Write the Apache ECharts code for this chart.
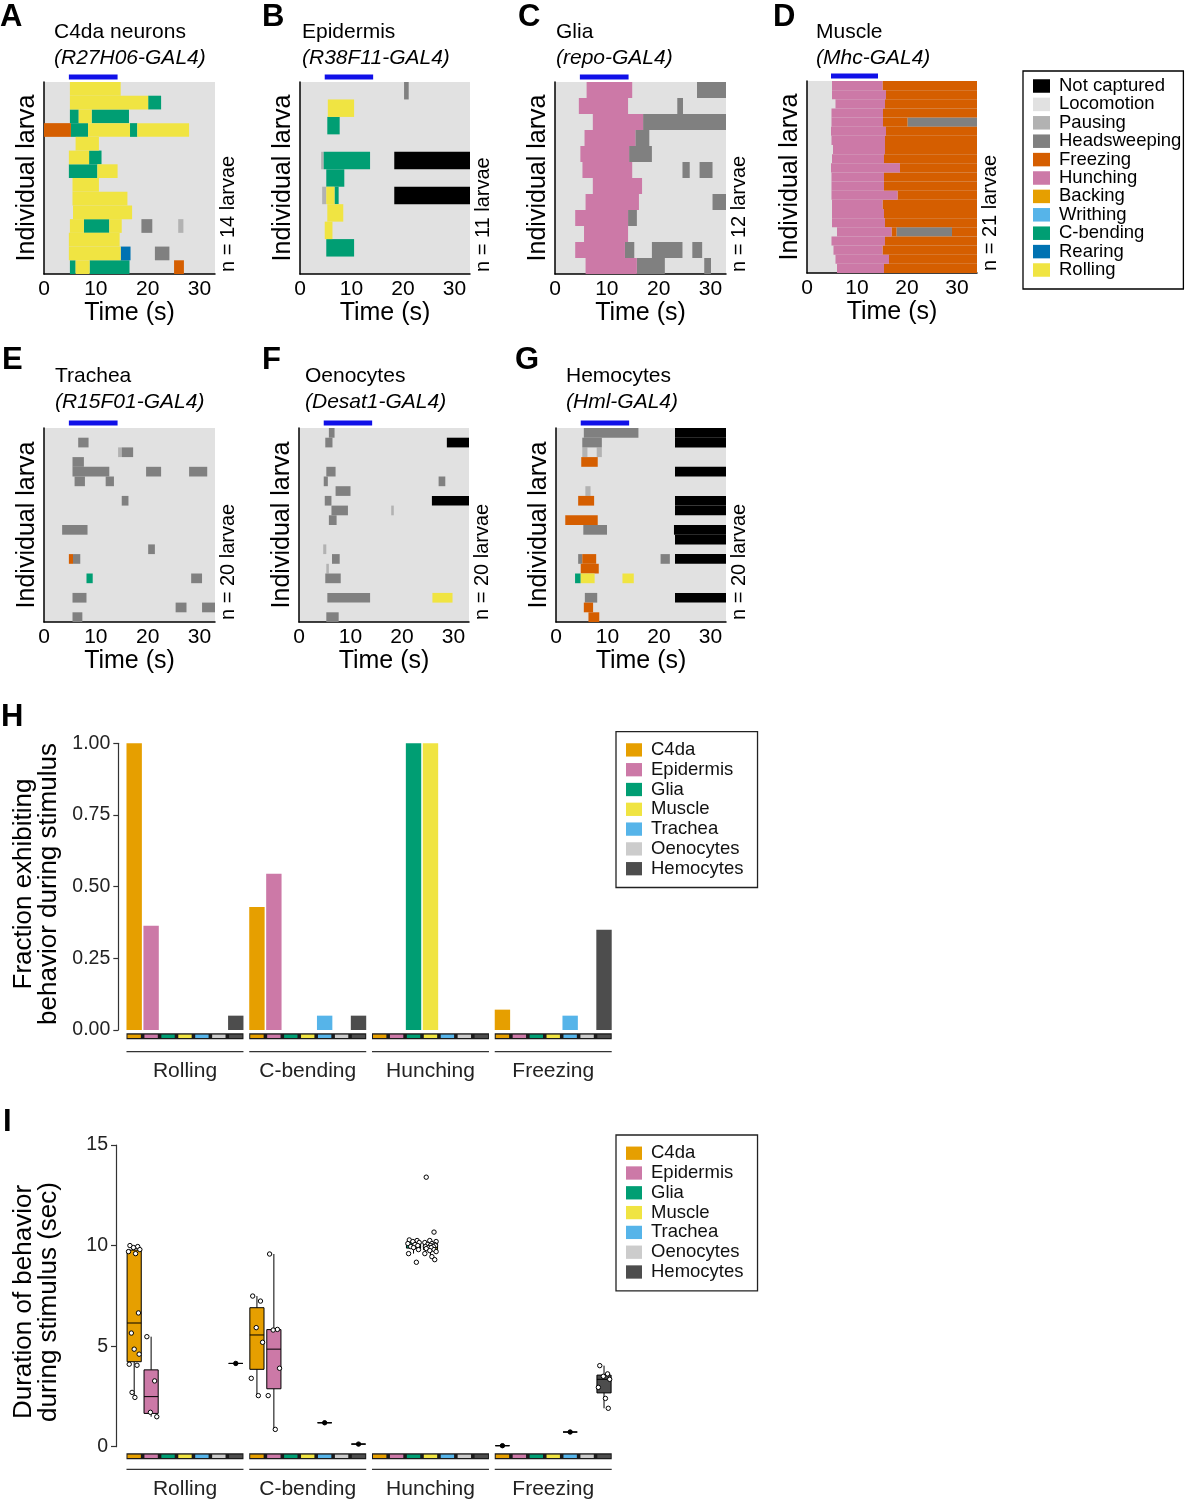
<!DOCTYPE html>
<html>
<head>
<meta charset="utf-8">
<title>Larval behaviour ethograms</title>
<script src="https://cdn.jsdelivr.net/npm/echarts@6/dist/echarts.min.js"></script>
<style>
  html, body { margin: 0; padding: 0; background: #fff; }
  #chart { width: 1185px; height: 1500px; }
</style>
</head>
<body>
<div id="chart"></div>
<script>
// behaviour classes and their colours
const behaviors = ['Not captured', 'Locomotion', 'Pausing', 'Headsweeping', 'Freezing', 'Hunching',
  'Backing', 'Writhing', 'C-bending', 'Rearing', 'Rolling'];
const behaviorColors = ['#000000', '#e1e1e1', '#b2b2b2', '#808080', '#d55e00', '#cc79a7',
  '#e69f00', '#56b4e9', '#009e73', '#0072b2', '#f0e442'];
const NC = 'Not captured', PA = 'Pausing', HS = 'Headsweeping', FR = 'Freezing', HU = 'Hunching',
  CB = 'C-bending', RE = 'Rearing', RO = 'Rolling';

// panel headers
const panelNames = ['C4da neurons', 'Epidermis', 'Glia', 'Muscle', 'Trachea', 'Oenocytes', 'Hemocytes'];
const panelDrivers = ['R27H06-GAL4', 'R38F11-GAL4', 'repo-GAL4', 'Mhc-GAL4', 'R15F01-GAL4', 'Desat1-GAL4', 'Hml-GAL4'];
const larvaeCounts = [14, 11, 12, 21, 20, 20, 20];
const timeMax = [33, 33, 33, 34, 33, 33, 33];
const stimulus = [4.8, 14.2];

// ethogram segments: [larva row, start (s), end (s), behaviour]
const segA = [
  [0, 5.0, 14.8, RO],
  [1, 5.0, 20.1, RO], [1, 20.1, 22.6, CB],
  [2, 5.0, 6.7, CB], [2, 6.7, 9.2, RO], [2, 9.2, 16.4, CB],
  [3, 0, 5.2, FR], [3, 5.2, 8.5, CB], [3, 8.5, 16.6, RO], [3, 16.6, 18.0, CB], [3, 18.0, 28.0, RO],
  [4, 6.1, 10.6, RO],
  [5, 4.8, 8.7, RO], [5, 8.7, 11.1, CB],
  [6, 4.8, 10.3, CB], [6, 10.3, 14.2, RO],
  [7, 5.5, 10.6, RO],
  [8, 5.5, 16.1, RO],
  [9, 5.6, 17.0, RO],
  [10, 5.0, 7.7, RO], [10, 7.7, 12.6, CB], [10, 12.6, 15.0, RO], [10, 18.8, 20.9, HS], [10, 25.9, 26.9, PA],
  [11, 4.8, 14.6, RO],
  [12, 4.8, 14.8, RO], [12, 14.8, 16.7, RE], [12, 21.4, 24.2, HS],
  [13, 5.0, 6.1, CB], [13, 6.1, 8.8, RO], [13, 8.8, 16.5, CB], [13, 25.1, 27.0, FR]
];
const segB = [
  [0, 20.2, 21.1, HS],
  [1, 5.4, 10.5, RO],
  [2, 5.3, 7.7, CB],
  [4, 4.1, 4.6, PA], [4, 4.6, 13.6, CB], [4, 18.3, 33, NC],
  [5, 5.1, 8.6, CB],
  [6, 4.3, 5.1, PA], [6, 5.1, 6.7, RO], [6, 6.7, 7.5, CB], [6, 18.3, 33, NC],
  [7, 5.3, 8.4, RO],
  [8, 4.8, 6.3, RO],
  [9, 5.1, 10.5, CB]
];
const segC = [
  [0, 6.1, 14.9, HU], [0, 27.4, 33, HS],
  [1, 4.6, 14.1, HU], [1, 23.6, 24.7, HS],
  [2, 7.3, 17.0, HU], [2, 17.0, 33, HS],
  [3, 5.7, 15.5, HU], [3, 15.5, 18.2, HS],
  [4, 4.9, 14.3, HU], [4, 14.3, 18.7, HS],
  [5, 5.3, 14.9, HU], [5, 24.6, 26.0, HS], [5, 27.9, 30.4, HS],
  [6, 7.3, 16.8, HU],
  [7, 5.9, 16.2, HU], [7, 30.4, 33, HS],
  [8, 3.9, 14.1, HU], [8, 14.1, 15.8, HS],
  [9, 5.6, 14.1, HU],
  [10, 3.9, 13.5, HU], [10, 13.5, 15.3, HS], [10, 18.7, 24.6, HS], [10, 26.5, 28.4, HS],
  [11, 5.9, 15.8, HU], [11, 15.8, 21.2, HS], [11, 28.8, 30.1, HS]
];
const segD = [
  [0, 5.0, 15.1, HU], [0, 15.1, 34, FR],
  [1, 5.0, 15.8, HU], [1, 15.8, 34, FR],
  [2, 5.7, 15.6, HU], [2, 15.6, 34, FR],
  [3, 4.9, 15.2, HU], [3, 15.2, 34, FR],
  [4, 4.9, 15.2, HU], [4, 15.2, 20.1, FR], [4, 20.1, 34, HS],
  [5, 4.8, 15.8, HU], [5, 15.8, 34, FR],
  [6, 4.9, 15.6, HU], [6, 15.6, 34, FR],
  [7, 5.2, 15.6, HU], [7, 15.6, 34, FR],
  [8, 5.0, 15.4, HU], [8, 15.4, 34, FR],
  [9, 4.8, 18.6, HU], [9, 18.6, 34, FR],
  [10, 4.9, 15.4, HU], [10, 15.4, 34, FR],
  [11, 4.9, 15.4, HU], [11, 15.4, 34, FR],
  [12, 4.9, 18.1, HU], [12, 18.1, 34, FR],
  [13, 5.0, 15.1, HU], [13, 15.1, 34, FR],
  [14, 5.0, 15.4, HU], [14, 15.4, 34, FR],
  [15, 5.0, 15.6, HU], [15, 15.6, 34, FR],
  [16, 6.0, 16.9, HU], [16, 16.9, 17.9, FR], [16, 17.9, 29.0, HS], [16, 29.0, 34, FR],
  [17, 4.9, 15.6, HU], [17, 15.6, 34, FR],
  [18, 5.3, 15.1, HU], [18, 15.1, 34, FR],
  [19, 5.7, 16.4, HU], [19, 16.4, 34, FR],
  [20, 6.0, 15.4, HU], [20, 15.4, 34, FR]
];
const segE = [
  [1, 6.6, 8.6, HS],
  [2, 14.3, 15.0, PA], [2, 15.0, 17.2, HS],
  [3, 5.5, 7.7, HS],
  [4, 5.5, 12.6, HS], [4, 19.7, 22.6, HS], [4, 28.0, 31.5, HS],
  [5, 5.9, 7.9, HS], [5, 11.9, 13.5, HS],
  [7, 15.0, 16.3, HS],
  [10, 3.5, 8.4, HS],
  [12, 20.1, 21.4, HS],
  [13, 4.8, 5.6, FR], [13, 5.6, 7.0, HS],
  [15, 8.2, 9.4, CB], [15, 28.4, 30.5, HS],
  [17, 5.5, 8.2, HS],
  [18, 25.4, 27.5, HS], [18, 30.5, 33, HS],
  [19, 5.5, 7.4, HS]
];
const segF = [
  [0, 5.8, 6.9, HS],
  [1, 5.1, 6.5, HS], [1, 28.7, 33, NC],
  [4, 5.3, 7.1, HS],
  [5, 4.8, 5.6, HS], [5, 27.1, 28.4, HS],
  [6, 7.1, 10.0, HS],
  [7, 5.0, 6.3, HS], [7, 25.8, 33, NC],
  [8, 6.3, 9.5, HS], [8, 17.9, 18.4, PA],
  [9, 5.8, 7.3, HS],
  [12, 4.7, 5.3, PA],
  [13, 6.4, 7.9, HS],
  [14, 5.3, 5.8, PA],
  [15, 5.1, 8.1, HS],
  [17, 5.5, 13.8, HS], [17, 25.9, 29.8, RO],
  [19, 5.3, 7.7, HS]
];
const segG = [
  [0, 5.4, 16.0, HS], [0, 23.1, 33, NC],
  [1, 5.1, 8.9, HS], [1, 23.1, 33, NC],
  [2, 5.1, 6.1, PA], [2, 7.9, 8.9, PA],
  [3, 4.9, 8.1, FR],
  [4, 23.1, 33, NC],
  [6, 5.7, 6.7, PA],
  [7, 4.3, 7.4, FR], [7, 23.1, 33, NC],
  [8, 23.1, 33, NC],
  [9, 1.8, 8.1, FR],
  [10, 5.3, 9.9, HS], [10, 22.9, 33, NC],
  [11, 23.1, 33, NC],
  [13, 4.3, 5.1, HS], [13, 5.1, 7.8, FR], [13, 20.3, 22.1, HS], [13, 23.1, 33, NC],
  [14, 4.8, 8.3, FR],
  [15, 3.7, 4.8, CB], [15, 4.8, 7.5, RO], [15, 12.9, 15.1, RO],
  [17, 5.6, 8.0, HS], [17, 23.1, 33, NC],
  [18, 5.4, 7.2, FR],
  [19, 6.3, 8.4, FR]
];
const ethograms = [segA, segB, segC, segD, segE, segF, segG];

// summary panels
const tissues = ['C4da', 'Epidermis', 'Glia', 'Muscle', 'Trachea', 'Oenocytes', 'Hemocytes'];
const tissueColors = ['#e69f00', '#cc79a7', '#009e73', '#f0e442', '#56b4e9', '#cccccc', '#4d4d4d'];
const groups = ['Rolling', 'C-bending', 'Hunching', 'Freezing'];

// fraction exhibiting behaviour during stimulus, per tissue
const fracRolling = [1.00, 0.364, 0, 0, 0, 0, 0.05];
const fracCBending = [0.429, 0.545, 0, 0, 0.05, 0, 0.05];
const fracHunching = [0, 0, 1.00, 1.00, 0, 0, 0];
const fracFreezing = [0.071, 0, 0, 0, 0.05, 0, 0.35];
const fractionByGroup = [fracRolling, fracCBending, fracHunching, fracFreezing];

// duration of behaviour during stimulus (s), one value per larva
const durRolling = {
  C4da: [10.0, 9.95, 9.9, 9.8, 9.7, 9.6, 6.65, 5.65, 4.85, 4.6, 4.1, 4.05, 2.7, 2.45],
  Epidermis: [5.47, 3.27, 1.71, 1.49],
  Hemocytes: [4.14]
};
const durCBending = {
  C4da: [7.49, 7.24, 5.92, 5.19, 3.40, 2.54],
  Epidermis: [9.58, 5.83, 5.80, 3.90, 2.54, 0.86],
  Trachea: [1.19],
  Hemocytes: [0.13]
};
const durHunching = {
  Glia: [10.28, 10.25, 10.2, 10.15, 10.1, 10.05, 10.0, 9.95, 9.9, 9.8, 9.6, 9.17],
  Muscle: [13.4, 10.67, 10.25, 10.2, 10.15, 10.1, 10.05, 10.05, 10.0, 10.0, 9.95, 9.95,
    9.9, 9.9, 9.85, 9.8, 9.75, 9.7, 9.6, 9.45, 9.3]
};
const durFreezing = {
  C4da: [0.05],
  Trachea: [0.73],
  Hemocytes: [4.03, 3.62, 3.5, 3.35, 2.95, 2.4, 1.91]
};
const durationsByGroup = [durRolling, durCBending, durHunching, durFreezing];

// layout
const ethoGrids = [
  { left: 44, top: 82, width: 171, height: 192 },
  { left: 300, top: 82, width: 170, height: 192 },
  { left: 555, top: 82, width: 171, height: 192 },
  { left: 807, top: 81, width: 170, height: 192 },
  { left: 44, top: 428, width: 171, height: 194 },
  { left: 299, top: 428, width: 170, height: 194 },
  { left: 556, top: 428, width: 170, height: 194 }
];
const titlePos = [[54, 32.5], [302, 32.5], [556, 32.5], [816, 32.5], [55, 376.5], [305, 376.5], [566, 376.5]];
const letters = ['A', 'B', 'C', 'D', 'E', 'F', 'G', 'H', 'I'];
const letterPos = [[0, 17], [262, 17], [518, 17], [773, 17], [2, 360], [262, 360], [515, 360], [1, 717], [3, 1122]];

const SANS = '"Liberation Sans", Arial, Helvetica, sans-serif';

const chart = echarts.init(document.getElementById('chart'));

// ethogram bar for one behaviour bout
function renderSegment(params, api) {
  const a = api.coord([api.value(1), api.value(0)]);
  const b = api.coord([api.value(2), api.value(0) + 1]);
  return {
    type: 'rect',
    shape: { x: a[0], y: a[1], width: b[0] - a[0], height: b[1] - a[1] },
    style: { fill: api.visual('color') }
  };
}

// stimulus bar above each ethogram
function renderStimulus(params, api) {
  const a = api.coord([api.value(0), 0]);
  const b = api.coord([api.value(1), 0]);
  return {
    type: 'rect',
    shape: { x: a[0], y: a[1] - 7.5, width: b[0] - a[0], height: 5 },
    style: { fill: '#1010e8' }
  };
}

// same slot geometry as the grouped bar layout
const CAT_GAP = 0.047, BAR_GAP = 0.1;
function slotGeom(W, k) {
  const catGap = W * CAT_GAP;
  const barW = (W - catGap) / (7 + 6 * BAR_GAP);
  const gap = barW * BAR_GAP;
  return { left: -W / 2 + catGap / 2 + k * (barW + gap), width: barW, gap };
}

function makeStripRenderer(lineOffset) {
  return function (params, api) {
    const g = api.value(0);
    const top = api.coord([g, 1]);
    const bottom = api.coord([g, 0])[1];
    const W = api.size([1, 0])[0];
    const children = [];
    const first = slotGeom(W, 0), last = slotGeom(W, 6);
    children.push({
      type: 'rect',
      shape: { x: top[0] + first.left, y: top[1], width: last.left + last.width - first.left, height: bottom - top[1] },
      style: { fill: '#1a1a1a' }
    });
    tissues.forEach((t, k) => {
      const s = slotGeom(W, k);
      children.push({
        type: 'rect',
        shape: { x: top[0] + s.left + 1, y: top[1] + 1.3, width: s.width - 2, height: bottom - top[1] - 2.6 },
        style: { fill: tissueColors[k] }
      });
    });
    children.push({
      type: 'line',
      shape: { x1: top[0] + first.left, y1: bottom + lineOffset, x2: top[0] + last.left + last.width, y2: bottom + lineOffset },
      style: { stroke: '#333', lineWidth: 1.3 }
    });
    return { type: 'group', children };
  };
}

function quantile(sorted, p) {
  const h = (sorted.length - 1) * p;
  const i = Math.floor(h);
  const next = sorted[Math.min(i + 1, sorted.length - 1)];
  return sorted[i] + (h - i) * (next - sorted[i]);
}

function boxStats(values) {
  const s = values.slice().sort((a, b) => a - b);
  const q1 = quantile(s, 0.25), med = quantile(s, 0.5), q3 = quantile(s, 0.75);
  const iqr = q3 - q1;
  const lo = s.find(v => v >= q1 - 1.5 * iqr);
  const hi = s.slice().reverse().find(v => v <= q3 + 1.5 * iqr);
  return [lo, q1, med, q3, hi];
}

const jitterPattern = [-0.3, 0.25, -0.05, 0.4, -0.4, 0.1, 0.3, -0.2, 0.0, 0.35, -0.35, 0.2, -0.15, 0.05];

function makeBoxRenderer(ti) {
  return function (params, api) {
    const g = api.value(0);
    const W = api.size([1, 0])[0];
    const s = slotGeom(W, ti);
    const cx = api.coord([g, 0])[0] + s.left + s.width / 2;
    const bw = s.width * 0.92;
    const y = v => api.coord([g, v])[1];
    const lo = y(api.value(1)), q1 = y(api.value(2)), med = y(api.value(3)), q3 = y(api.value(4)), hi = y(api.value(5));
    const line = { stroke: '#000', lineWidth: 1 };
    const children = [
      { type: 'line', shape: { x1: cx, y1: q3, x2: cx, y2: hi }, style: line },
      { type: 'line', shape: { x1: cx, y1: q1, x2: cx, y2: lo }, style: line },
      { type: 'rect', shape: { x: cx - bw / 2, y: q3, width: bw, height: q1 - q3 }, style: { fill: tissueColors[ti], stroke: '#000', lineWidth: 1 } },
      { type: 'line', shape: { x1: cx - bw / 2, y1: med, x2: cx + bw / 2, y2: med }, style: line }
    ];
    const pts = durationsByGroup[g][tissues[ti]];
    pts.forEach((v, i) => {
      const dx = pts.length > 1 ? jitterPattern[i % jitterPattern.length] * bw : 0;
      children.push({
        type: 'circle',
        shape: { cx: cx + dx, cy: y(v), r: 2.2 },
        style: { fill: pts.length > 1 ? '#fff' : '#000', stroke: '#000', lineWidth: 1 }
      });
    });
    return { type: 'group', children };
  };
}

const grids = [], xAxes = [], yAxes = [], series = [], graphics = [];

// ethogram panels A–G
ethograms.forEach((segs, p) => {
  const L = ethoGrids[p];
  grids.push({ left: L.left, top: L.top, width: L.width, height: L.height, show: true,
    backgroundColor: behaviorColors[1], borderWidth: 0 });
  xAxes.push({
    gridIndex: p, type: 'value', min: 0, max: timeMax[p], interval: 10,
    name: 'Time (s)', nameLocation: 'middle', nameGap: 22,
    nameTextStyle: { fontFamily: SANS, fontSize: 25, color: '#000' },
    axisLine: { onZero: false, lineStyle: { color: '#000', width: 1.5 } },
    axisTick: { show: false }, splitLine: { show: false },
    axisLabel: { fontFamily: SANS, fontSize: 21, color: '#000', margin: 5,
      formatter: v => (v % 10 === 0 ? String(v) : '') }
  });
  yAxes.push({
    gridIndex: p, type: 'value', min: 0, max: larvaeCounts[p], inverse: true,
    name: 'Individual larva', nameLocation: 'middle', nameGap: 4,
    nameTextStyle: { fontFamily: SANS, fontSize: 25, color: '#000' },
    axisLine: { show: true, onZero: false, lineStyle: { color: '#000', width: 1.5 } },
    axisTick: { show: false }, axisLabel: { show: false }, splitLine: { show: false }
  });
  behaviors.forEach((b, bi) => {
    const data = segs.filter(s => s[3] === b).map(s => [s[0], s[1], s[2]]);
    if (!data.length && p > 0) return;
    series.push({
      type: 'custom', name: b, xAxisIndex: p, yAxisIndex: p, data,
      encode: { x: [1, 2], y: 0 }, renderItem: renderSegment,
      itemStyle: { color: behaviorColors[bi] }, silent: true
    });
  });
  series.push({
    type: 'custom', name: 'Stimulus', xAxisIndex: p, yAxisIndex: p, data: [stimulus],
    encode: { x: [0, 1] }, renderItem: renderStimulus, silent: true
  });

  const [tx, ty] = titlePos[p];
  graphics.push({ type: 'text', x: tx, y: ty, style: { text: panelNames[p], font: '21px ' + SANS, fill: '#000', verticalAlign: 'middle' } });
  graphics.push({ type: 'text', x: tx, y: ty + 26, style: { text: '(' + panelDrivers[p] + ')', font: 'italic 21px ' + SANS, fill: '#000', verticalAlign: 'middle' } });
  graphics.push({
    type: 'text', x: L.left + L.width + 13, y: L.top + L.height - 2, rotation: Math.PI / 2,
    style: { text: 'n = ' + larvaeCounts[p] + ' larvae', font: '20px ' + SANS, fill: '#000', align: 'left', verticalAlign: 'middle' }
  });
});

// panel H: fraction bars (grid 7) and genotype strip (grid 8)
const HL = { left: 123.6, width: 491 };
const tickLabelStyle = { fontFamily: SANS, fontSize: 19.5, color: '#222' };
const groupLabel = margin => ({ fontFamily: SANS, fontSize: 21, color: '#222', margin, interval: 0 });
grids.push({ left: HL.left, width: HL.width, top: 743.3, height: 286.7 });
xAxes.push({ gridIndex: 7, type: 'category', data: groups, show: false });
yAxes.push({
  gridIndex: 7, type: 'value', min: 0, max: 1, interval: 0.25, offset: 5.3,
  axisLine: { show: true, lineStyle: { color: '#333', width: 1.2 } },
  axisTick: { show: true, length: 5, lineStyle: { color: '#333', width: 1.2 } },
  splitLine: { show: false },
  axisLabel: Object.assign({ margin: 8, formatter: v => v.toFixed(2) }, tickLabelStyle)
});
tissues.forEach((t, ti) => {
  series.push({
    type: 'bar', name: t, xAxisIndex: 7, yAxisIndex: 7,
    data: fractionByGroup.map(f => f[ti]),
    itemStyle: { color: tissueColors[ti] },
    barGap: (BAR_GAP * 100) + '%', barCategoryGap: (CAT_GAP * 100) + '%', silent: true
  });
});
grids.push({ left: HL.left, width: HL.width, top: 1033.3, height: 6 });
xAxes.push({
  gridIndex: 8, type: 'category', data: groups,
  axisLine: { show: false }, axisTick: { show: false },
  axisLabel: groupLabel(21)
});
yAxes.push({ gridIndex: 8, type: 'value', min: 0, max: 1, show: false });
series.push({
  type: 'custom', name: 'strip', xAxisIndex: 8, yAxisIndex: 8,
  data: groups.map((g, i) => [i]), encode: { x: 0 },
  renderItem: makeStripRenderer(12.4), silent: true
});

// panel I: duration boxes (grid 9) and genotype strip (grid 10)
grids.push({ left: HL.left, width: HL.width, top: 1145, height: 301.7 });
xAxes.push({ gridIndex: 9, type: 'category', data: groups, show: false });
yAxes.push({
  gridIndex: 9, type: 'value', min: 0, max: 15, interval: 5, offset: 7.6,
  axisLine: { show: true, lineStyle: { color: '#333', width: 1.2 } },
  axisTick: { show: true, length: 5, lineStyle: { color: '#333', width: 1.2 } },
  splitLine: { show: false },
  axisLabel: Object.assign({ margin: 8 }, tickLabelStyle)
});
tissues.forEach((t, ti) => {
  const data = durationsByGroup
    .map((d, g) => (d[t] ? [g].concat(boxStats(d[t])) : null))
    .filter(Boolean);
  series.push({
    type: 'custom', name: t, xAxisIndex: 9, yAxisIndex: 9, data,
    encode: { x: 0, y: [1, 2, 3, 4, 5] },
    renderItem: makeBoxRenderer(ti), itemStyle: { color: tissueColors[ti] }, silent: true
  });
});
grids.push({ left: HL.left, width: HL.width, top: 1453.3, height: 6 });
xAxes.push({
  gridIndex: 10, type: 'category', data: groups,
  axisLine: { show: false }, axisTick: { show: false },
  axisLabel: groupLabel(19)
});
yAxes.push({ gridIndex: 10, type: 'value', min: 0, max: 1, show: false });
series.push({
  type: 'custom', name: 'strip', xAxisIndex: 10, yAxisIndex: 10,
  data: groups.map((g, i) => [i]), encode: { x: 0 },
  renderItem: makeStripRenderer(10), silent: true
});

// panel letters and rotated axis titles for H and I
letters.forEach((l, i) => {
  graphics.push({ type: 'text', x: letterPos[i][0], y: letterPos[i][1],
    style: { text: l, font: 'bold 31px ' + SANS, fill: '#000', verticalAlign: 'middle' } });
});
graphics.push({
  type: 'text', x: 36, y: 884, rotation: Math.PI / 2,
  style: { text: 'Fraction exhibiting\nbehavior during stimulus', font: '26px ' + SANS, fill: '#000',
    align: 'center', verticalAlign: 'middle', lineHeight: 25 }
});
graphics.push({
  type: 'text', x: 36, y: 1302, rotation: Math.PI / 2,
  style: { text: 'Duration of behavior\nduring stimulus (sec)', font: '26px ' + SANS, fill: '#000',
    align: 'center', verticalAlign: 'middle', lineHeight: 25 }
});

const tissueLegend = top => ({
  data: tissues, orient: 'vertical', left: 616, top, icon: 'rect',
  itemWidth: 16, itemHeight: 13.3, itemGap: 0.8, padding: [8.7, 14, 9.3, 10],
  borderColor: '#222', borderWidth: 1.3, selectedMode: false,
  textStyle: { fontFamily: SANS, fontSize: 18.5, color: '#111', lineHeight: 18, padding: [0, 0, 0, 4] }
});

chart.setOption({
  backgroundColor: '#fff',
  animation: false,
  grid: grids,
  xAxis: xAxes,
  yAxis: yAxes,
  series,
  graphic: graphics,
  legend: [
    {
      data: behaviors, orient: 'vertical', left: 1023, top: 71, icon: 'rect',
      itemWidth: 17, itemHeight: 13.5, itemGap: -0.6, padding: [5.5, 2, 9.5, 10],
      borderColor: '#000', borderWidth: 1.3, selectedMode: false,
      textStyle: { fontFamily: SANS, fontSize: 18.5, color: '#000', lineHeight: 17, padding: [0, 0, 0, 4] }
    },
    tissueLegend(731.7),
    tissueLegend(1135)
  ]
});
</script>
</body>
</html>
